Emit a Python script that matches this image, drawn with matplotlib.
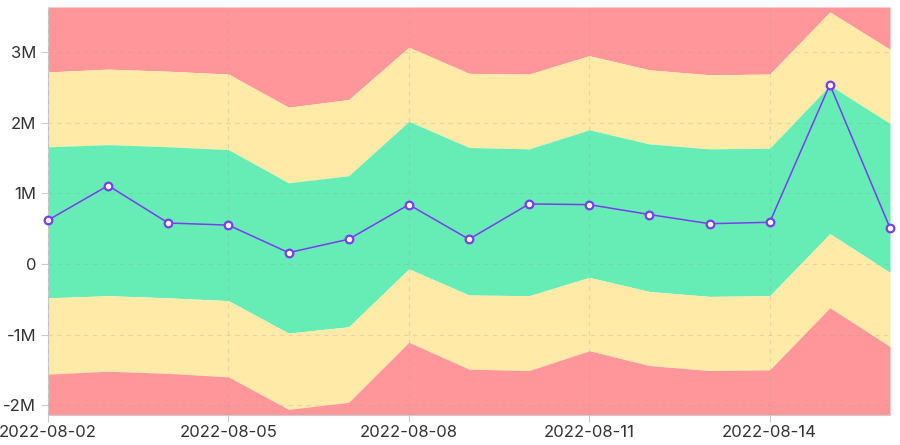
import numpy as np
import matplotlib
matplotlib.use("Agg")
import matplotlib.pyplot as plt
import matplotlib.dates as mdates
from matplotlib.ticker import FuncFormatter
import pandas as pd

dates = pd.date_range("2022-08-02", "2022-08-16", freq="D")
# observed values (millions)
values = [0.62, 1.11, 0.58, 0.55, 0.16, 0.35, 0.84, 0.35, 0.85, 0.84, 0.70, 0.57, 0.59, 2.54, 0.51]
# band edges (millions)
outer_hi = [2.72, 2.76, 2.73, 2.69, 2.22, 2.33, 3.07, 2.70, 2.69, 2.95, 2.75, 2.68, 2.69, 3.57, 3.04]
inner_hi = [1.66, 1.69, 1.66, 1.62, 1.15, 1.25, 2.02, 1.65, 1.63, 1.90, 1.70, 1.63, 1.64, 2.53, 1.99]
inner_lo = [-0.48, -0.45, -0.48, -0.52, -0.98, -0.89, -0.07, -0.44, -0.45, -0.19, -0.39, -0.46, -0.45, 0.43, -0.12]
outer_lo = [-1.56, -1.52, -1.55, -1.60, -2.06, -1.96, -1.11, -1.49, -1.51, -1.23, -1.44, -1.51, -1.50, -0.62, -1.17]
ymin, ymax = -2.14, 3.64

red = "#ff979a"
yellow = "#ffeaa8"
green = "#66edb6"
purple = "#7a3cf0"

plt.rcParams['font.family'] = ['Inter', 'DejaVu Sans']

fig = plt.figure(figsize=(9, 4.45), dpi=100)
ax = fig.add_axes([48/900, 30/445, 842/900, 408/445])

m = 1e6
v = np.array(values) * m
oh = np.array(outer_hi) * m
ih = np.array(inner_hi) * m
il = np.array(inner_lo) * m
ol = np.array(outer_lo) * m

ax.fill_between(dates, oh, ymax * m, color=red, lw=0)
ax.fill_between(dates, ih, oh, color=yellow, lw=0)
ax.fill_between(dates, il, ih, color=green, lw=0)
ax.fill_between(dates, ol, il, color=yellow, lw=0)
ax.fill_between(dates, ymin * m, ol, color=red, lw=0)

ax.plot(dates, v, color=purple, lw=1.1, marker="o", ms=5.5,
        mfc="white", mec=purple, mew=1.6, zorder=5, clip_on=False)

ax.set_xlim(dates[0], dates[-1])
ax.set_ylim(ymin * m, ymax * m)
ax.set_xticks(dates[::3])
ax.xaxis.set_major_formatter(mdates.DateFormatter("%Y-%m-%d"))
ax.set_yticks(np.arange(-2, 4) * m)
ax.yaxis.set_major_formatter(FuncFormatter(lambda y, p: "0" if y == 0 else "%dM" % round(y / m)))

ax.grid(True, ls=(0, (4, 4)), color="#999999", alpha=0.25, lw=0.8)
ax.set_axisbelow(False)
for s in ["top", "right"]:
    ax.spines[s].set_visible(False)
for s in ["left", "bottom"]:
    ax.spines[s].set_color("#cccccc")
ax.tick_params(colors="#cccccc", labelcolor="#333333", labelsize=12, length=5)
ax.tick_params(axis="x", pad=2)

fig.savefig("out.png", dpi=100)
